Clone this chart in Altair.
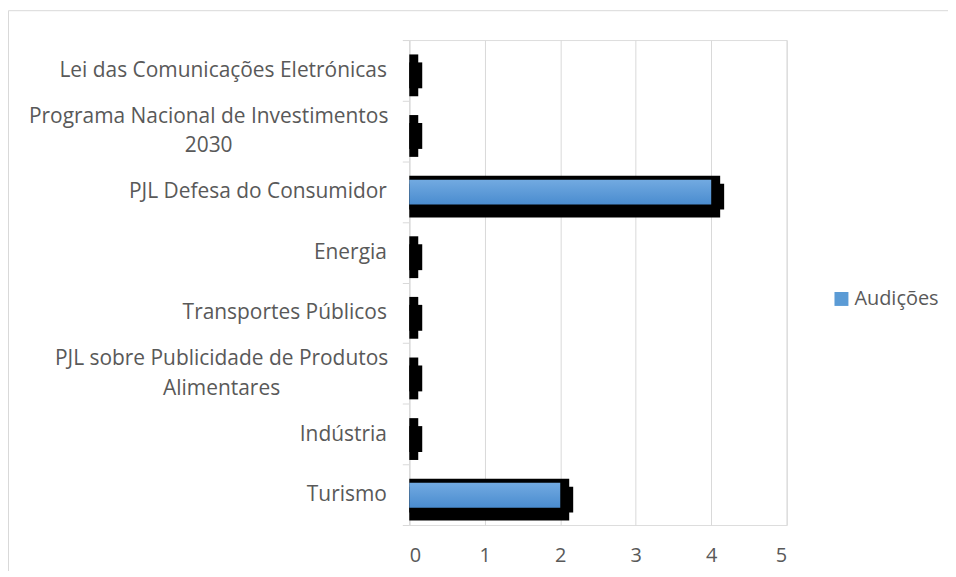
import altair as alt
import pandas as pd

categories = [
    "Lei das Comunicações Eletrónicas",
    "Programa Nacional de Investimentos 2030",
    "PJL Defesa do Consumidor",
    "Energia",
    "Transportes Públicos",
    "PJL sobre Publicidade de Produtos Alimentares",
    "Indústria",
    "Turismo",
]
values = [0, 0, 4, 0, 0, 0, 0, 2]
series_name = "Audições"
x_ticks = [0, 1, 2, 3, 4, 5]

df = pd.DataFrame({"cat": categories, "val": values, "series": [series_name] * len(categories)})

FONT = "Open Sans"
FS = 20
FSY = 21
TXT = "#595959"
GRID = "#d9d9d9"

L2 = "Programa Nacional de Investimentos 2030"
L6 = "PJL sobre Publicidade de Produtos Alimentares"
label_expr = (
    f"datum.label == '{L2}' ? ['Programa Nacional de Investimentos', '2030'] : "
    f"datum.label == '{L6}' ? ['PJL sobre Publicidade de Produtos', 'Alimentares'] : datum.label"
)
is_multi = f"datum.value == '{L2}' || datum.value == '{L6}'"

y_enc = alt.Y(
    "cat:N",
    sort=categories,
    title=None,
    scale=alt.Scale(paddingInner=0, paddingOuter=0),
    axis=alt.Axis(
        labelExpr=label_expr,
        tickBand="extent",
        tickSize=7,
        tickColor=GRID,
        domainColor=GRID,
        labelPadding={
            "condition": [
                {"test": f"datum.value == '{L2}'", "value": 195},
                {"test": f"datum.value == '{L6}'", "value": 182},
            ],
            "value": 16,
        },
        labelAlign={"condition": {"test": is_multi, "value": "center"}, "value": "right"},
        labelOffset={"condition": {"test": is_multi, "value": -15}, "value": 0},
        labelFontSize=FSY,
        labelFont=FONT,
        labelColor=TXT,
        labelLineHeight=30,
        grid=False,
        labelLimit=500,
    ),
)
x_enc = alt.X(
    "zero:Q",
    title=None,
    scale=alt.Scale(domain=[0, 5], nice=False),
    axis=alt.Axis(
        values=x_ticks,
        format="d",
        grid=True,
        gridColor=GRID,
        domain=False,
        ticks=False,
        labelFontSize=FS,
        labelFont=FONT,
        labelColor=TXT,
        labelPadding=21,
    ),
)

base = alt.Chart(df).transform_calculate(zero="0")

shadow = base.mark_bar(color="black", height=42, yOffset=5, x2Offset=9).encode(
    y=y_enc, x=x_enc, x2="val:Q"
)

notch = base.mark_bar(color="black", height=26, yOffset=5, x2Offset=13).encode(
    y=alt.Y("cat:N", sort=categories), x="zero:Q", x2="val:Q"
)

grad = alt.Gradient(
    gradient="linear",
    stops=[alt.GradientStop(color="#72AAE1", offset=0), alt.GradientStop(color="#4A8CCF", offset=1)],
    x1=0, x2=0, y1=0, y2=1,
)
blue = base.mark_bar(color=grad, height=25, yOffset=0.5).encode(
    y=alt.Y("cat:N", sort=categories), x="zero:Q", x2="val:Q"
)

legend_layer = base.mark_square(opacity=0).encode(
    y=alt.Y("cat:N", sort=categories),
    x="zero:Q",
    color=alt.Color(
        "series:N",
        scale=alt.Scale(range=["#5B9BD5"]),
        legend=alt.Legend(
            title=None,
            orient="none",
            legendX=424,
            legendY=250,
            symbolType="square",
            symbolSize=196,
            symbolOpacity=1,
            symbolStrokeWidth=0,
            labelFontSize=FS,
            labelFont=FONT,
            labelColor=TXT,
            labelOffset=3,
        ),
    ),
)

border = alt.Chart(pd.DataFrame({"a": [0]})).mark_rect(
    fillOpacity=0, stroke=GRID, strokeWidth=1
).encode(x=alt.value(-402.5), x2=alt.value(560), y=alt.value(-29.5), y2=alt.value(600))

chart = alt.layer(border, shadow, notch, blue, legend_layer).properties(
    width=379,
    height=487,
    padding={"left": 403, "top": 31, "right": 162, "bottom": 45},
    autosize=alt.AutoSizeParams(type="none"),
).configure_view(stroke=None).configure(background="white")

chart.save("out.html", embed_options={"renderer": "svg", "actions": False})
